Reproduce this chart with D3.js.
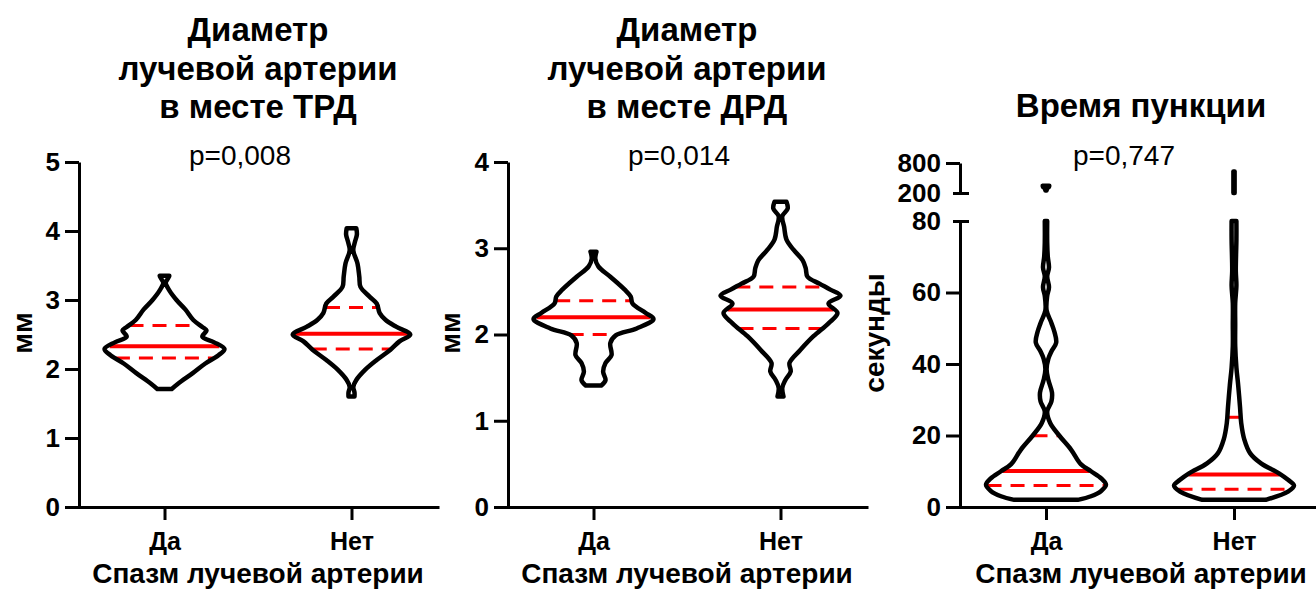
<!DOCTYPE html>
<html>
<head>
<meta charset="utf-8">
<script src="https://cdn.jsdelivr.net/npm/d3@7"></script>
<style>
  body { margin: 0; background: #fff; }
  svg { display: block; font-family: "Liberation Sans", Arial, Helvetica, sans-serif; }
</style>
</head>
<body>
<script>
// группы по оси X
const groups = ["Да", "Нет"];

// профили скрипичных диаграмм: [значение, относительная плотность 0..1]
const trdDa = [[3.35,.08],[3.30,.05],[3.25,.02],[3.14,.08],[3.00,.20],[2.86,.35],[2.71,.48],[2.61,.63],[2.56,.70],[2.47,.63],[2.39,.82],[2.29,1.0],[2.20,.90],[2.08,.68],[1.94,.47],[1.79,.23],[1.71,.12]];
const trdNet = [[4.04,.08],[3.95,.09],[3.85,.06],[3.72,.03],[3.53,.10],[3.34,.13],[3.19,.15],[3.05,.30],[2.95,.42],[2.81,.47],[2.71,.57],[2.61,.75],[2.50,.98],[2.40,.80],[2.28,.65],[2.13,.42],[1.99,.23],[1.84,.08],[1.74,.03],[1.66,.05],[1.60,.05]];
const drdDa = [[2.96,.05],[2.88,.03],[2.79,.08],[2.67,.28],[2.52,.52],[2.44,.62],[2.36,.65],[2.25,.87],[2.18,1.0],[2.07,.72],[1.99,.37],[1.90,.28],[1.76,.30],[1.67,.20],[1.57,.16],[1.47,.20],[1.41,.13]];
const drdNet = [[3.54,.10],[3.46,.12],[3.37,.03],[3.25,.06],[3.10,.10],[2.98,.22],[2.86,.37],[2.77,.42],[2.67,.45],[2.59,.65],[2.52,.83],[2.45,1.0],[2.36,.80],[2.25,.95],[2.13,.80],[1.98,.55],[1.82,.33],[1.67,.15],[1.57,.17],[1.47,.08],[1.38,.03],[1.28,.05]];
const punDa = [[80,.02],[74,.02],[70,.03],[67,.05],[64.5,.02],[61.5,.05],[59,.02],[55,.01],[51.5,.09],[49,.14],[46,.17],[43.5,.09],[41.5,.04],[38.5,.01],[35.5,.04],[32,.10],[29.5,.09],[26.7,.02],[23.5,.07],[20,.22],[16,.42],[12,.58],[10,.75],[8,.92],[6.2,1.0],[4.5,.92],[3,.75],[2,.53]];
const punNet = [[80,.04],[75,.04],[66,.03],[62,.04],[57,.02],[51,.02],[45,.02],[39,.04],[34,.07],[28,.10],[23.5,.12],[19,.17],[15,.27],[12.2,.45],[9.4,.75],[7.6,.90],[6,1.0],[4.3,.90],[2,.53]];
const punDaHigh = [[345,.055],[325,.05],[290,.02],[250,.01]];
const punNetHigh = [[630,.01],[200,.01]];

// медианы и квартили [Да, Нет]
const trdMedian = [2.33, 2.51], trdQ1 = [2.16, 2.29], trdQ3 = [2.63, 2.89];
const drdMedian = [2.20, 2.29], drdQ1 = [2.00, 2.07], drdQ3 = [2.39, 2.55];
const punMedian = [10.1, 9.1], punQ1 = [6.0, 5.0], punQ3 = [19.9, 25.1];

// деления осей
const trdTicks = [0, 1, 2, 3, 4, 5];
const drdTicks = [0, 1, 2, 3, 4];
const punTicksLow = [0, 20, 40, 60, 80];
const punTicksHigh = [200, 800];

// подписи
const titles = [["Диаметр", "лучевой артерии", "в месте ТРД"], ["Диаметр", "лучевой артерии", "в месте ДРД"], ["Время пункции"]];
const pValues = ["p=0,008", "p=0,014", "p=0,747"];
const yLabels = ["мм", "мм", "секунды"];
const xLabel = "Спазм лучевой артерии";

const svg = d3.select("body").append("svg")
  .attr("width", 1316)
  .attr("height", 590);

const wScale = d3.scaleLinear().domain([0, 1]).range([0, 60]);

function widthAt(profile, v) {
  const p = profile.slice().sort((a, b) => a[0] - b[0]);
  if (v <= p[0][0]) return p[0][1];
  for (let i = 1; i < p.length; i++) {
    if (v <= p[i][0]) {
      const t = (v - p[i-1][0]) / (p[i][0] - p[i-1][0]);
      return p[i-1][1] + t * (p[i][1] - p[i-1][1]);
    }
  }
  return p[p.length - 1][1];
}

function drawViolin(g, profile, cx, y, stats) {
  const area = d3.area()
    .curve(d3.curveCatmullRom.alpha(0.5))
    .y(d => y(d[0]))
    .x0(d => cx - wScale(d[1]))
    .x1(d => cx + wScale(d[1]));

  g.append("path").datum(profile)
    .attr("d", area).attr("fill", "#fff").attr("stroke", "none");

  if (stats) {
    stats.forEach(s => {
      const w = Math.max(wScale(widthAt(profile, s.v)) - 1, 2);
      g.append("line")
        .attr("x1", cx - w).attr("x2", cx + w)
        .attr("y1", y(s.v)).attr("y2", y(s.v))
        .attr("stroke", "#ff0000")
        .attr("stroke-width", s.dash ? 3 : 4)
        .attr("stroke-dasharray", s.dash ? "14,9" : null);
    });
  }

  g.append("path").datum(profile)
    .attr("d", area).attr("fill", "none")
    .attr("stroke", "#000").attr("stroke-width", 4.5)
    .attr("stroke-linejoin", "round");
}

function styleAxis(sel, size) {
  sel.select(".domain").attr("stroke", "#000").attr("stroke-width", 3);
  sel.selectAll(".tick line").attr("stroke", "#000").attr("stroke-width", 3);
  sel.selectAll(".tick text")
    .attr("fill", "#000")
    .style("font-size", size + "px")
    .style("font-weight", "bold");
}

function panel(cfg) {
  const g = svg.append("g");

  const x = d3.scalePoint().domain(groups).range(cfg.xRange).padding(0.468);
  const y = d3.scaleLinear().domain(cfg.yDomain).range([507, cfg.yTop]);

  // заголовок
  cfg.title.forEach((line, i) => {
    g.append("text")
      .attr("x", cfg.cx)
      .attr("y", cfg.title.length === 1 ? 117 : 41 + i * 38.5)
      .attr("text-anchor", "middle")
      .style("font-size", "33px").style("font-weight", "bold")
      .text(line);
  });

  g.append("text")
    .attr("x", cfg.px).attr("y", 165)
    .attr("text-anchor", "middle")
    .style("font-size", "28px")
    .text(cfg.p);

  // ось Y
  const yAxis = g.append("g")
    .attr("transform", `translate(${cfg.xRange[0] + 2},0)`)
    .call(d3.axisLeft(y).tickValues(cfg.ticks).tickFormat(d3.format("d"))
      .tickSize(14).tickPadding(5).tickSizeOuter(0));
  styleAxis(yAxis, 26);

  // ось X
  const xAxis = g.append("g")
    .attr("transform", "translate(0,507)")
    .call(d3.axisBottom(x).tickSize(13).tickPadding(12).tickSizeOuter(0));
  styleAxis(xAxis, 25);

  g.append("text")
    .attr("x", cfg.cx).attr("y", 583)
    .attr("text-anchor", "middle")
    .style("font-size", "28px").style("font-weight", "bold")
    .text(xLabel);

  g.append("text")
    .attr("transform", `translate(${cfg.yLabelX},333) rotate(-90)`)
    .attr("text-anchor", "middle")
    .style("font-size", "28px").style("font-weight", "bold")
    .text(cfg.yLabel);

  groups.forEach((grp, i) => {
    drawViolin(g, cfg.profiles[i], x(grp), y, [
      { v: cfg.q3[i], dash: true },
      { v: cfg.median[i], dash: false },
      { v: cfg.q1[i], dash: true }
    ]);
  });

  return { g, x, y, yAxis };
}

panel({
  xRange: [77, 439], yDomain: [0, 5], yTop: 162, ticks: trdTicks,
  title: titles[0], cx: 258, p: pValues[0], px: 240,
  yLabel: yLabels[0], yLabelX: 32,
  profiles: [trdDa, trdNet], median: trdMedian, q1: trdQ1, q3: trdQ3
});

panel({
  xRange: [506, 868], yDomain: [0, 4], yTop: 162, ticks: drdTicks,
  title: titles[1], cx: 687, p: pValues[1], px: 679,
  yLabel: yLabels[1], yLabelX: 460,
  profiles: [drdDa, drdNet], median: drdMedian, q1: drdQ1, q3: drdQ3
});

const p3 = panel({
  xRange: [958, 1322], yDomain: [0, 80], yTop: 221, ticks: punTicksLow,
  title: titles[2], cx: 1141, p: pValues[2], px: 1124,
  yLabel: yLabels[2], yLabelX: 884,
  profiles: [punDa, punNet], median: punMedian, q1: punQ1, q3: punQ3
});

// разрыв оси: верхний сегмент
const yHigh = d3.scaleLinear().domain([200, 800]).range([193, 163]);
const highAxis = p3.g.append("g")
  .attr("transform", "translate(960,0)")
  .call(d3.axisLeft(yHigh).tickValues(punTicksHigh).tickSize(14).tickPadding(5).tickSizeOuter(0));
styleAxis(highAxis, 26);

// засечки разрыва на 200 и 80
highAxis.selectAll(".tick").filter(d => d === 200).select("line").attr("x1", 9).attr("x2", -7);
p3.yAxis.selectAll(".tick").filter(d => d === 80).select("line").attr("x1", 9).attr("x2", -7);

drawViolin(p3.g, punDaHigh, p3.x(groups[0]), yHigh, null);
drawViolin(p3.g, punNetHigh, p3.x(groups[1]), yHigh, null);
</script>
</body>
</html>
